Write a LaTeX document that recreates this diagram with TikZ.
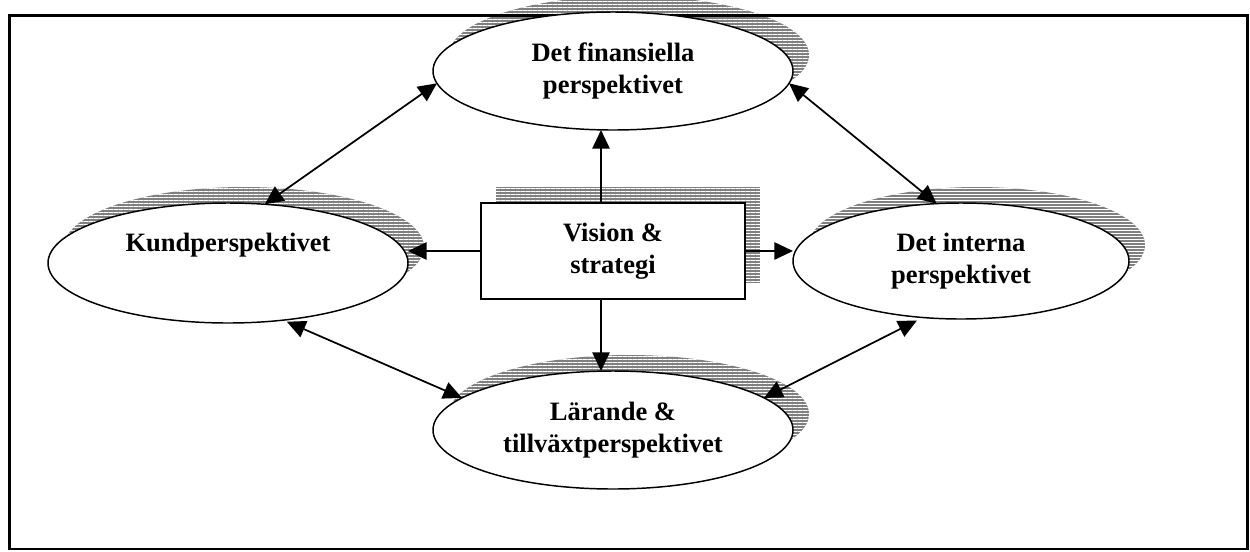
\documentclass[tikz,border=0pt]{standalone}
\usepackage{fontspec}
\setmainfont{Liberation Serif}
\usetikzlibrary{arrows.meta,shapes.geometric,patterns}
\pgfdeclarepatternformonly{hstripes}{\pgfpointorigin}{\pgfqpoint{4pt}{2.25pt}}{\pgfqpoint{4pt}{2.25pt}}{\pgfpathrectangle{\pgfpointorigin}{\pgfqpoint{4pt}{0.75pt}}\pgfusepath{fill}}
\definecolor{shadowgray}{RGB}{128,128,128}
\begin{document}
\begin{tikzpicture}[x=0.75pt,y=-0.75pt,
  persp/.style={ellipse,draw,line width=1.1pt,fill=white,inner sep=0pt,outer sep=0pt,
    align=center,font=\fontsize{19.9pt}{24pt}\selectfont\bfseries},
  visionbox/.style={rectangle,draw,line width=1.3pt,fill=white,inner sep=0pt,outer sep=0pt,
    minimum width=198pt,minimum height=72pt,align=center,
    font=\fontsize{19.9pt}{24pt}\selectfont\bfseries},
  shadowfill/.style={fill=shadowgray,postaction={pattern=hstripes,pattern color=white}},
  conn/.style={line width=1.3pt,-{Triangle[length=14pt,width=13pt]}},
  biconn/.style={line width=1.3pt,{Triangle[length=14pt,width=13pt]}-{Triangle[length=14pt,width=13pt]}},
  frame/.style={line width=1.8pt}]
\useasboundingbox (0,0) rectangle (1250,551);
% centres
\coordinate (cfin) at (613,71);
\coordinate (ckund) at (228,263);
\coordinate (cint) at (961,261);
\coordinate (clar) at (613,430);
\coordinate (cbox) at (613,251);
% shadows
\fill[shadowfill] ([shift={(16,-16)}]cfin) ellipse [x radius=135pt, y radius=44.25pt];
\fill[shadowfill] ([shift={(16,-16)}]ckund) ellipse [x radius=135pt, y radius=45pt];
\fill[shadowfill] ([shift={(16,-16)}]cint) ellipse [x radius=126pt, y radius=43.5pt];
\fill[shadowfill] ([shift={(16,-16)}]clar) ellipse [x radius=135pt, y radius=44.25pt];
\fill[shadowfill] ([shift={(-117,-64)}]cbox) rectangle ([shift={(147,32)}]cbox);
% frame
\coordinate (ftl) at (9.5,15.5);
\coordinate (fbr) at (1247.5,549);
\draw[frame] (ftl) rectangle (fbr);
% nodes
\node[persp,minimum width=270pt,minimum height=88.5pt] (fin) at (cfin) {Det finansiella\\perspektivet};
\node[persp,minimum width=270pt,minimum height=90pt] (kund) at (ckund) {Kundperspektivet\\\strut};
\node[persp,minimum width=252pt,minimum height=87pt] (int) at (cint) {Det interna\\perspektivet};
\node[persp,minimum width=270pt,minimum height=88.5pt] (lar) at (clar) {Lärande \&\\tillväxtperspektivet};
\node[visionbox] (box) at (cbox) {\raisebox{2.5pt}{\begin{tabular}{@{}c@{}}Vision \&\\strategi\end{tabular}}};
% connectors
\draw[conn] ([xshift=-9pt]box.north) -- ([xshift=-9pt]box.north |- fin.south);
\draw[conn] ([xshift=-9pt]box.south) -- ([xshift=-9pt]box.south |- lar.north);
\draw[conn] (box.west) -- (box.west -| kund.east);
\draw[conn] (box.east) -- (box.east -| int.west);
\draw[biconn] (fin.184) -- (kund.58);
\draw[biconn] (fin.356) -- (int.113);
\draw[biconn,shorten <=3pt] (kund.-46) -- (lar.168);
\draw[biconn,shorten <=5pt] (int.236) -- (lar.12);
\end{tikzpicture}
\end{document}
